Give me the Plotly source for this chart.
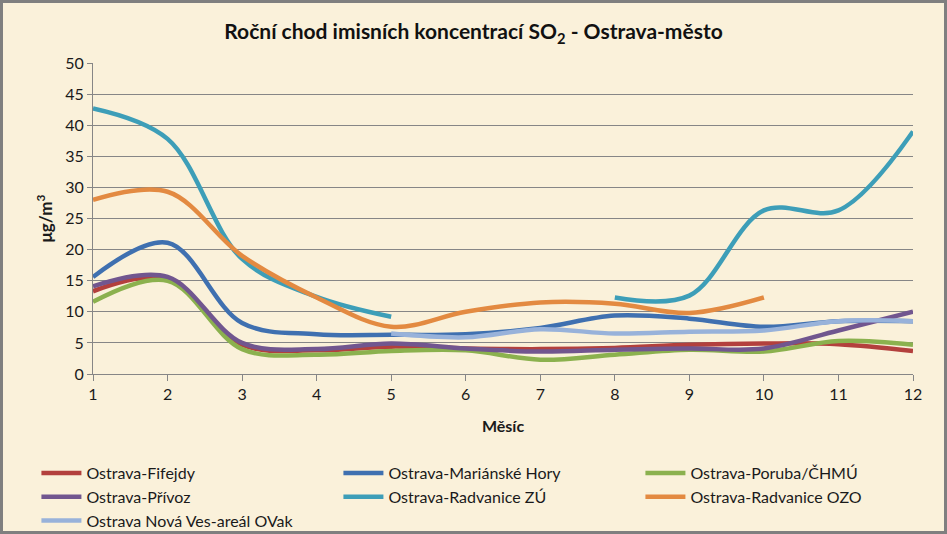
import plotly.graph_objects as go

# -----------------------------
# Data (monthly SO2 means, ug/m3)
# -----------------------------
months = [1, 2, 3, 4, 5, 6, 7, 8, 9, 10, 11, 12]

fifejdy = [13.3, 15.3, 4.7, 3.8, 4.4, 4.1, 4.0, 4.2, 4.7, 4.9, 4.8, 3.7]
marianske_hory = [15.6, 21.1, 8.2, 6.4, 6.3, 6.4, 7.4, 9.4, 8.9, 7.6, 8.5, 8.5]
poruba = [11.6, 15.0, 4.0, 3.1, 3.7, 3.8, 2.3, 3.1, 3.9, 3.6, 5.3, 4.7]
privoz = [14.1, 15.6, 5.0, 4.0, 4.9, 4.1, 3.6, 3.9, 4.1, 4.1, 7.0, 10.0]
radvanice_zu = [42.7, 37.8, 18.5, 12.4, 9.2, None, None, 12.3, 12.6, 26.3, 26.3, 39.0]
radvanice_ozo = [28.0, 29.3, 19.0, 12.3, 7.6, 10.0, 11.5, 11.3, 9.8, 12.3, None, None]
nova_ves = [None, None, None, None, 6.5, 5.9, 7.2, 6.5, 6.8, 7.0, 8.5, 8.5]

series_names = [
    "Ostrava-Fifejdy",
    "Ostrava-Mariánské Hory",
    "Ostrava-Poruba/ČHMÚ",
    "Ostrava-Přívoz",
    "Ostrava-Radvanice ZÚ",
    "Ostrava-Radvanice OZO",
    "Ostrava Nová Ves-areál OVak",
]
series_values = [fifejdy, marianske_hory, poruba, privoz,
                 radvanice_zu, radvanice_ozo, nova_ves]
series_colors = ["#B3403D", "#3F70B0", "#8BB14E", "#71568F",
                 "#3D9EB8", "#E38A41", "#98B2DA"]

# -----------------------------
# Figure
# -----------------------------
W, H = 947, 534
ML, MR, MT, MB = 93, 34, 63, 160
PW, PH = W - ML - MR, H - MT - MB

fig = go.Figure()

for name, vals, col in zip(series_names, series_values, series_colors):
    fig.add_trace(go.Scatter(
        x=months,
        y=vals,
        name=name,
        mode="lines",
        line=dict(color=col, width=4.5, shape="spline", smoothing=1),
        connectgaps=False,
    ))

font = "Lato, 'Open Sans', sans-serif"

fig.update_layout(
    width=W,
    height=H,
    margin=dict(l=ML, r=MR, t=MT, b=MB, autoexpand=False),
    paper_bgcolor="#FAF1DA",
    plot_bgcolor="#FAF1DA",
    font=dict(family=font, size=16, color="#1a1a1a"),
    title=dict(
        text="<b>Roční chod imisních koncentrací SO<sub>2</sub> - Ostrava-město</b>",
        x=0.5, xanchor="center",
        y=1 - 32 / H, yanchor="middle", yref="container",
        font=dict(size=21, color="#111111"),
    ),
    xaxis=dict(
        range=[1, 12],
        tickmode="array",
        tickvals=months,
        showgrid=False,
        zeroline=False,
        showline=True,
        linecolor="#868686",
        ticks="outside",
        ticklen=6,
        tickcolor="#868686",
        tickfont=dict(size=16),
        title=dict(text="<b>Měsíc</b>", font=dict(size=16), standoff=18),
    ),
    yaxis=dict(
        range=[0, 50],
        dtick=5,
        showgrid=True,
        gridcolor="#868686",
        gridwidth=1,
        zeroline=False,
        showline=True,
        linecolor="#868686",
        ticks="outside",
        ticklen=5,
        tickcolor="#868686",
        tickfont=dict(size=16),
        title=dict(text="<b>μg/m<sup>3</sup></b>", font=dict(size=17), standoff=8),
    ),
    legend=dict(
        orientation="h",
        x=-0.069, xanchor="left",
        y=-0.264, yanchor="top",
        entrywidth=247,
        entrywidthmode="pixels",
        font=dict(size=16, color="#1a1a1a"),
        bgcolor="rgba(0,0,0,0)",
        tracegroupgap=0,
        itemwidth=40,
    ),
    showlegend=True,
)

# outer frame of the chart
fig.add_shape(
    type="rect", xref="paper", yref="paper",
    x0=(-ML + 1.5) / PW, x1=(PW + MR - 1.5) / PW,
    y0=(-MB + 1.5) / PH, y1=(PH + MT - 1.5) / PH,
    line=dict(color="#7F7F7F", width=3),
    layer="above",
)

# drop the default page margin so the figure fills the window
fig.write_html(
    "out.html",
    config={"displayModeBar": False},
    post_script="document.body.style.margin='0';",
)
